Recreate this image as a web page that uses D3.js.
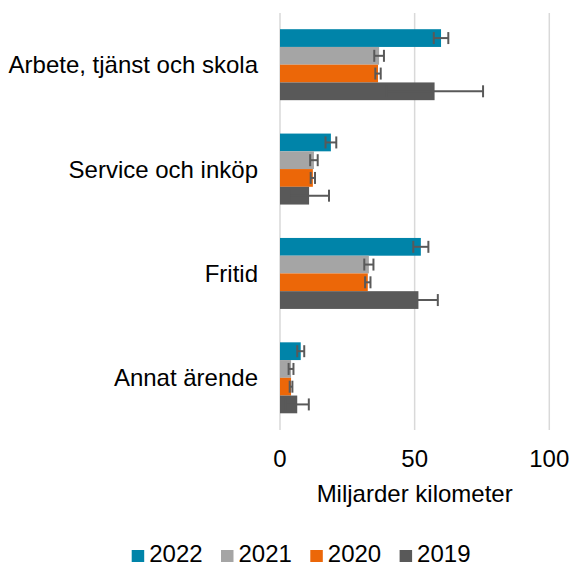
<!DOCTYPE html>
<html>
<head>
<meta charset="utf-8">
<script src="https://cdn.jsdelivr.net/npm/d3@7"></script>
<style>
  body { margin: 0; background: #fff; }
  text { font-family: Arial, "Liberation Sans", sans-serif; fill: #000; }
</style>
</head>
<body>
<div class="chart"></div>
<script>
// Distance per trip purpose, billion km
var categories = ["Arbete, tjänst och skola", "Service och inköp", "Fritid", "Annat ärende"];
var years = ["2022", "2021", "2020", "2019"];
var colors = ["#0084a9", "#a5a5a5", "#ec6708", "#595959"];

var values2022 = [59.8, 18.9, 52.3, 7.7];
var values2021 = [36.8, 12.6, 33.0, 4.1];
var values2020 = [36.4, 12.2, 32.6, 4.1];
var values2019 = [57.4, 10.8, 51.4, 6.4];

// half width of the error bars
var err2022 = [2.7, 2.0, 2.8, 1.3];
var err2021 = [1.8, 1.4, 1.7, 0.9];
var err2020 = [1.0, 0.8, 1.0, 0.5];
var err2019 = [18.0, 7.4, 7.2, 4.3];

var xTicks = [0, 50, 100];

var svgWidth = 571;
var svgHeight = 567;

var svg = d3.select(".chart")
  .append("svg")
  .attr("width", svgWidth)
  .attr("height", svgHeight);

var series = [values2022, values2021, values2020, values2019];
var errors = [err2022, err2021, err2020, err2019];

var data = [];
categories.forEach(function (c, i) {
  years.forEach(function (y, j) {
    data.push({ cat: c, year: y, value: series[j][i], err: errors[j][i] });
  });
});

var x = d3.scaleLinear().domain([0, 100]).range([280, 549.3]);
var y0 = d3.scaleBand().domain(categories).range([12.5, 430]).paddingInner(0.32).paddingOuter(0.16);
var y1 = d3.scaleBand().domain(years).range([0, y0.bandwidth()]);
var color = d3.scaleOrdinal().domain(years).range(colors);

// gridlines
svg.append("g")
  .selectAll("line")
  .data(xTicks)
  .enter()
  .append("line")
  .attr("x1", d => x(d))
  .attr("x2", d => x(d))
  .attr("y1", 13)
  .attr("y2", 430)
  .attr("stroke", "#d9d9d9")
  .attr("stroke-width", 1.5);

// bars
svg.append("g")
  .selectAll("rect")
  .data(data)
  .enter()
  .append("rect")
  .attr("x", x(0))
  .attr("y", d => y0(d.cat) + y1(d.year))
  .attr("width", d => x(d.value) - x(0))
  .attr("height", y1.bandwidth())
  .attr("fill", d => color(d.year));

// error bars
var errG = svg.append("g")
  .attr("stroke", "#595959")
  .attr("stroke-width", 2)
  .attr("fill", "none");

data.forEach(function (d) {
  var cy = y0(d.cat) + y1(d.year) + y1.bandwidth() / 2;
  var lo = x(d.value - d.err), hi = x(d.value + d.err);
  errG.append("line").attr("x1", lo).attr("x2", hi).attr("y1", cy).attr("y2", cy);
  errG.append("line").attr("x1", lo).attr("x2", lo).attr("y1", cy - 6).attr("y2", cy + 6);
  errG.append("line").attr("x1", hi).attr("x2", hi).attr("y1", cy - 6).attr("y2", cy + 6);
});

// category labels
svg.append("g")
  .selectAll("text")
  .data(categories)
  .enter()
  .append("text")
  .attr("x", 258)
  .attr("y", d => y0(d) + y0.bandwidth() / 2)
  .attr("dy", "0.36em")
  .attr("text-anchor", "end")
  .style("font-size", "24px")
  .text(d => d);

// x tick labels
svg.append("g")
  .selectAll("text")
  .data(xTicks)
  .enter()
  .append("text")
  .attr("x", d => x(d))
  .attr("y", 467)
  .attr("text-anchor", "middle")
  .style("font-size", "24px")
  .text(d => d);

svg.append("text")
  .attr("x", x(50))
  .attr("y", 502)
  .attr("text-anchor", "middle")
  .style("font-size", "24px")
  .text("Miljarder kilometer");

// legend
var legend = svg.append("g")
  .selectAll("g")
  .data(years)
  .enter()
  .append("g")
  .attr("transform", (d, i) => `translate(${131.7 + i * 89.3}, 0)`);

legend.append("rect")
  .attr("x", 0)
  .attr("y", 550)
  .attr("width", 12.5)
  .attr("height", 12)
  .attr("fill", d => color(d));

legend.append("text")
  .attr("x", 17.5)
  .attr("y", 561.5)
  .style("font-size", "24px")
  .text(d => d);
</script>
</body>
</html>
